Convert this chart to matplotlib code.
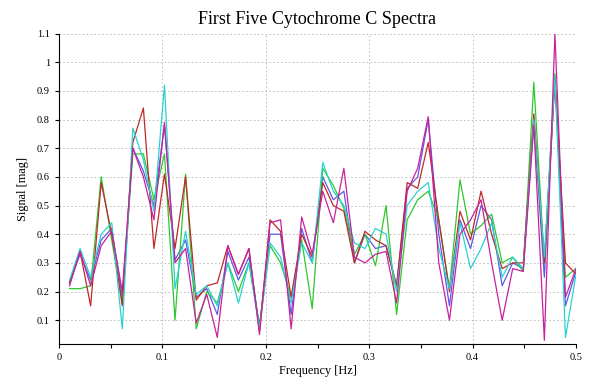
import matplotlib
matplotlib.use("Agg")
import matplotlib.pyplot as plt
from matplotlib.ticker import MultipleLocator, FormatStrFormatter

freq = [0.0102, 0.0204, 0.0306, 0.0408, 0.0510, 0.0612, 0.0714, 0.0816, 0.0918, 0.1020,
        0.1122, 0.1224, 0.1327, 0.1429, 0.1531, 0.1633, 0.1735, 0.1837, 0.1939, 0.2041,
        0.2143, 0.2245, 0.2347, 0.2449, 0.2551, 0.2653, 0.2755, 0.2857, 0.2959, 0.3061,
        0.3163, 0.3265, 0.3367, 0.3469, 0.3571, 0.3673, 0.3776, 0.3878, 0.3980, 0.4082,
        0.4184, 0.4286, 0.4388, 0.4490, 0.4592, 0.4694, 0.4796, 0.4898, 0.5000]

spec_blue = [.23, .33, .24, .38, .42, .18, .70, .62, .50, .78,
             .31, .38, .18, .21, .12, .34, .24, .32, .08, .40,
             .40, .12, .42, .30, .60, .52, .55, .30, .40, .35,
             .36, .22, .56, .60, .80, .40, .15, .45, .35, .50,
             .45, .22, .30, .28, .80, .25, .95, .15, .27]
spec_green = [.21, .21, .22, .60, .38, .16, .68, .68, .52, .68,
              .10, .61, .07, .20, .16, .30, .20, .30, .08, .36,
              .30, .18, .38, .14, .63, .57, .49, .33, .40, .29,
              .50, .12, .45, .52, .55, .45, .21, .59, .40, .43,
              .47, .30, .32, .27, .93, .30, .96, .25, .28]
spec_red = [.23, .34, .15, .58, .40, .15, .72, .84, .35, .61,
            .35, .60, .17, .22, .23, .36, .26, .35, .06, .45,
            .41, .18, .40, .32, .58, .50, .48, .30, .41, .38,
            .36, .22, .58, .56, .72, .45, .20, .48, .38, .55,
            .40, .28, .30, .30, .82, .30, .94, .30, .26]
spec_cyan = [.24, .35, .25, .40, .44, .07, .77, .66, .48, .92,
             .21, .41, .19, .22, .15, .30, .16, .30, .07, .37,
             .32, .16, .37, .30, .65, .55, .50, .37, .35, .42,
             .40, .20, .50, .55, .58, .35, .21, .44, .28, .35,
             .44, .25, .32, .28, .80, .32, .95, .04, .26]
spec_magenta = [.22, .34, .22, .36, .41, .20, .70, .60, .45, .79,
                .30, .35, .09, .19, .04, .36, .26, .35, .05, .44,
                .45, .07, .46, .33, .55, .44, .63, .32, .30, .33,
                .34, .16, .55, .63, .81, .30, .10, .40, .45, .52,
                .30, .10, .28, .27, .78, .03, 1.10, .18, .28]

series = [spec_blue, spec_green, spec_red, spec_cyan, spec_magenta]
colors = ["#5a5ae6", "#2ec82e", "#c02828", "#2ad2d2", "#c8209e"]

plt.rcParams['font.family'] = ['Liberation Serif', 'DejaVu Serif']

fig = plt.figure(figsize=(5.92, 3.84), dpi=100)
ax = fig.add_axes([59/592, 1-344/384, (576-59)/592, (344-33.5)/384])

for s, c in zip(series, colors):
    ax.plot(freq, s, color=c, lw=0.9)

ax.set_xlim(0, 0.5)
ax.set_ylim(0.017, 1.1)
ax.xaxis.set_major_locator(MultipleLocator(0.1))
ax.xaxis.set_minor_locator(MultipleLocator(0.05))
ax.xaxis.set_major_formatter(FormatStrFormatter('%g'))
ax.yaxis.set_major_formatter(FormatStrFormatter('%g'))
ax.set_yticks([0.1, 0.2, 0.3, 0.4, 0.5, 0.6, 0.7, 0.8, 0.9, 1.0, 1.1])
ax.tick_params(axis='both', labelsize=7.5, direction='out', length=3, width=0.8)
ax.tick_params(axis='x', which='minor', direction='out', length=3, width=0.8)
ax.grid(True, which='major', linestyle=(0, (1.5, 2.5)), color='#b8b8b8', lw=0.7)
ax.spines['top'].set_visible(False)
ax.spines['right'].set_visible(False)
ax.set_axisbelow(True)

ax.set_title("First Five Cytochrome C Spectra", fontsize=13, pad=7)
ax.set_xlabel("Frequency [Hz]", fontsize=8.8, labelpad=2)
ax.set_ylabel("Signal [mag]", fontsize=8.8, labelpad=6)

fig.savefig("out.png", dpi=100)
